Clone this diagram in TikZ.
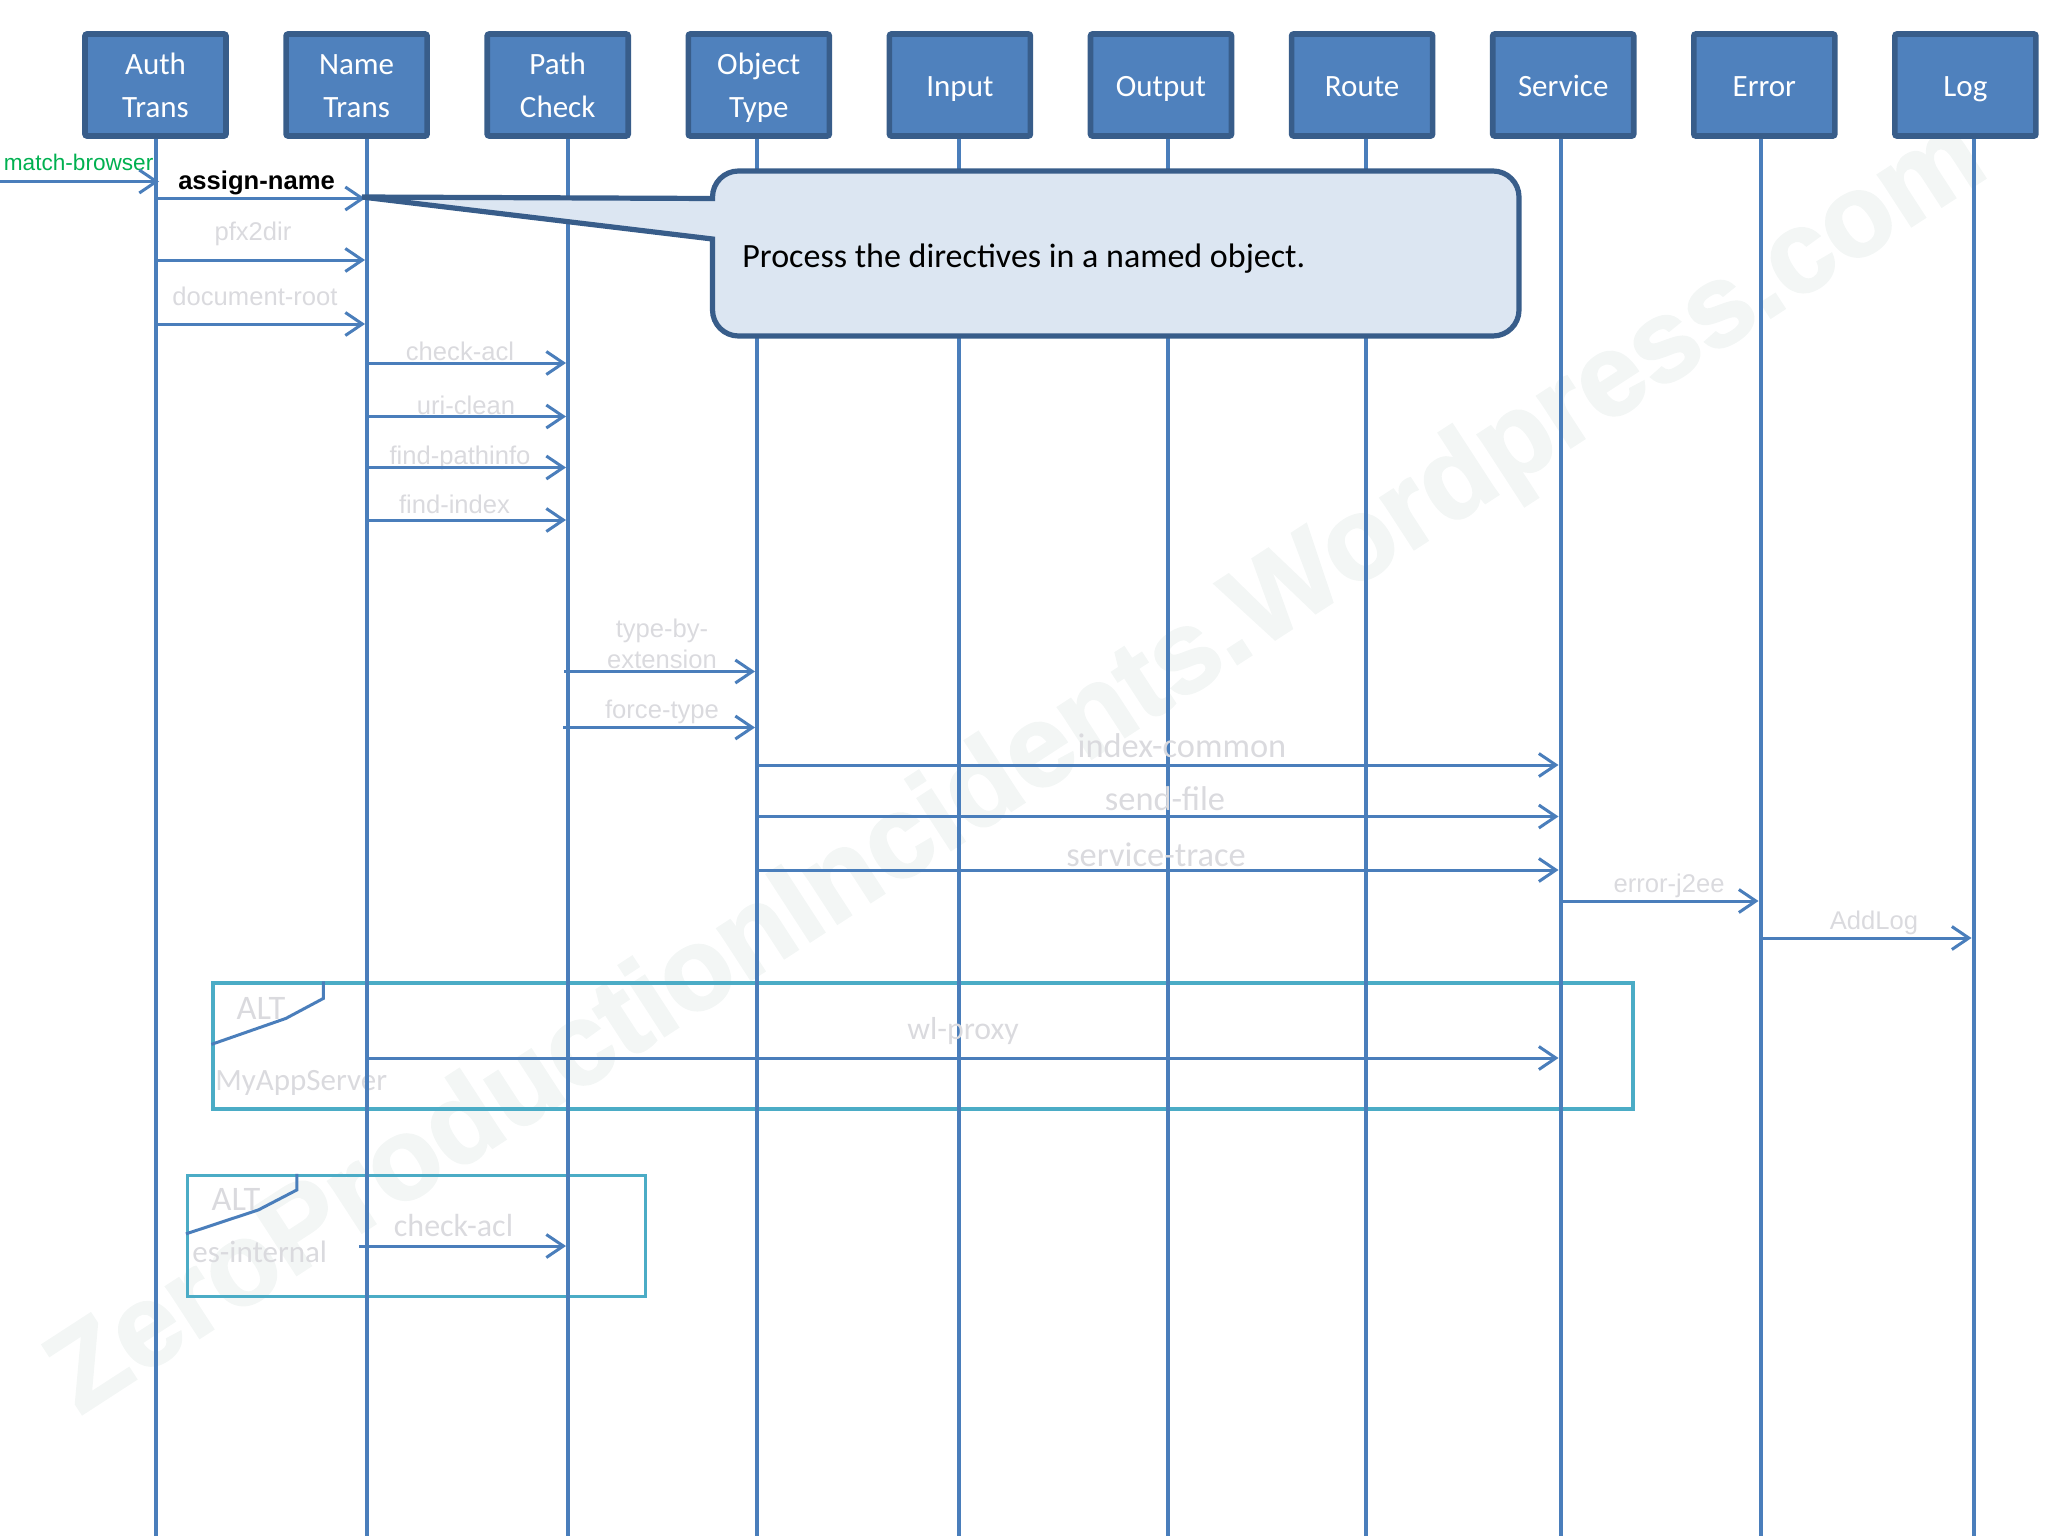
\documentclass[tikz,border=0pt]{standalone}
\usepackage{fontspec}
\setmainfont{Carlito}
\newfontfamily\arialfont{Liberation Sans}
\newfontfamily\markfont[BoldFeatures={FakeBold=2}]{Liberation Sans}
\usetikzlibrary{arrows.meta, positioning}
\definecolor{boxfill}{HTML}{4F81BD}
\definecolor{boxline}{HTML}{385D8A}
\definecolor{lineblue}{HTML}{4A7EBB}
\definecolor{notefill}{HTML}{DCE6F2}
\definecolor{framecol}{HTML}{4BACC6}
\definecolor{msggray}{HTML}{DADADE}
\definecolor{markgray}{HTML}{F3F6F5}
\definecolor{foundgreen}{HTML}{00B050}
\newcommand{\phaseone}[1]{\rule[-4.75pt]{0pt}{21.5pt}#1}
\newcommand{\phasetwo}[2]{\rule{0pt}{15pt}#1\\\rule[-3.7pt]{0pt}{3.7pt}#2}
\tikzstyle{phase} = [rectangle, rounded corners=1pt, minimum width=70.5pt, minimum height=51pt, text centered, align=center, draw=boxline, line width=2.8pt, fill=boxfill, text=white, inner sep=0pt, font=\fontsize{15.5}{21.5}\selectfont]
\tikzstyle{lifeline} = [draw=lineblue, line width=2pt]
\tikzstyle{arrow} = [draw=lineblue, line width=1.5pt, -{Straight Barb[length=8.5pt,width=11.5pt,line width=1.5pt]}, shorten >=1pt]
\tikzstyle{altframe} = [rectangle, draw=framecol, line width=1.6pt, inner sep=0pt]
\tikzstyle{alttab} = [draw=lineblue, line width=1.5pt]
\tikzstyle{msgarial} = [text=msggray, inner sep=0pt, font=\arialfont\fontsize{12.8}{15}\selectfont]
\tikzstyle{msgcarlito} = [text=msggray, inner sep=0pt, font=\fontsize{15.5}{18}\selectfont]
\tikzstyle{msgwide} = [text=msggray, inner sep=0pt, font=\fontsize{17.2}{20}\selectfont]
\begin{document}
\begin{tikzpicture}[x=0.5pt, y=-0.5pt, node distance=100.55pt]
        \useasboundingbox (0,0) rectangle (2048,1536);
        \node (watermark) [rotate=33, text=markgray, inner sep=0pt, font=\markfont\bfseries\fontsize{58}{62}\selectfont] at (1019,770) {ZeroProductionIncidents.Wordpress.com};

        % phases
        \node (authtrans) [phase] at (155.5,85) {\phasetwo{Auth}{Trans}};
        \node (nametrans) [phase, right of=authtrans] {\phasetwo{Name}{Trans}};
        \node (pathcheck) [phase, right of=nametrans] {\phasetwo{Path}{Check}};
        \node (objecttype) [phase, right of=pathcheck] {\phasetwo{Object}{Type}};
        \node (input) [phase, right of=objecttype] {\phaseone{Input}};
        \node (output) [phase, right of=input] {\phaseone{Output}};
        \node (route) [phase, right of=output] {\phaseone{Route}};
        \node (service) [phase, right of=route] {\phaseone{Service}};
        \node (error) [phase, right of=service] {\phaseone{Error}};
        \node (log) [phase, right of=error] {\phaseone{Log}};

        % alt frames
        \node (altproxy) [altframe, minimum width=710pt, minimum height=63pt] at (923,1046) {};
        \node (altes) [altframe, minimum width=229pt, minimum height=60.5pt] at (416.5,1236) {};
        \draw [alttab] ([xshift=56pt]altproxy.north west) -- ++(0,17) -- ++(-37.5,20) -- ([yshift=-31.5pt]altproxy.north west);
        \draw [alttab] ([xshift=55.5pt]altes.north west) -- ++(0,16) -- ++(-38.5,20) -- ([yshift=-30pt]altes.north west);
        \node (altproxylabel) [msgwide] at (261,1008) {ALT};
        \node (proxyserver) [msgcarlito, anchor=west] at (215,1083) {MyAppServer};
        \node (alteslabel) [msgwide] at (236,1199) {ALT};
        \node (esinternal) [msgcarlito, anchor=west] at (192,1252) {es-internal};

        % lifelines
        \coordinate (bottom) at (0,1536);
        \coordinate (authline) at (156,139);
        \coordinate (nameline) at (367,139);
        \coordinate (pathline) at (568,139);
        \coordinate (objectline) at (757,139);
        \coordinate (inputline) at (958.5,139);
        \coordinate (outputline) at (1168,139);
        \coordinate (routeline) at (1365.5,139);
        \coordinate (serviceline) at (1560.5,139);
        \coordinate (errorline) at (1760.5,139);
        \coordinate (logline) at (1973.5,139);
        \draw [lifeline] (authtrans.south -| authline) -- (authline |- bottom);
        \draw [lifeline] (nametrans.south -| nameline) -- (nameline |- bottom);
        \draw [lifeline] (pathcheck.south -| pathline) -- (pathline |- bottom);
        \draw [lifeline] (objecttype.south -| objectline) -- (objectline |- bottom);
        \draw [lifeline] (input.south -| inputline) -- (inputline |- bottom);
        \draw [lifeline] (output.south -| outputline) -- (outputline |- bottom);
        \draw [lifeline] (route.south -| routeline) -- (routeline |- bottom);
        \draw [lifeline] (service.south -| serviceline) -- (serviceline |- bottom);
        \draw [lifeline] (error.south -| errorline) -- (errorline |- bottom);
        \draw [lifeline] (log.south -| logline) -- (logline |- bottom);

        % messages
        \coordinate (foundstart) at (0,181.5);
        \coordinate (assign) at (0,198.5);
        \coordinate (pfx) at (0,260);
        \coordinate (docroot) at (0,324);
        \coordinate (checkacl) at (0,363);
        \coordinate (uriclean) at (0,416.5);
        \coordinate (findpath) at (0,467.5);
        \coordinate (findindex) at (0,520);
        \coordinate (typeby) at (0,671.5);
        \coordinate (forcetype) at (0,727.5);
        \coordinate (indexcommon) at (0,765);
        \coordinate (sendfile) at (0,816.5);
        \coordinate (servicetrace) at (0,870);
        \coordinate (errorjee) at (0,901);
        \coordinate (addlog) at (0,938);
        \coordinate (wlproxy) at (0,1058);
        \coordinate (esstart) at (359,1246);

        \node (matchbrowser) [inner sep=0pt, text=foundgreen, font=\arialfont\fontsize{11.3}{13}\selectfont, anchor=west] at (3.5,162) {match-browser};
        \node (assignname) [inner sep=0pt, font=\arialfont\bfseries\fontsize{12.8}{15}\selectfont] at (256.5,182.5) {assign-name};
        \node (pfxlabel) [msgarial] at (253,233.5) {pfx2dir};
        \node (docrootlabel) [msgarial] at (255,296.5) {document-root};
        \node (checklabel) [msgarial] at (460,351.5) {check-acl};
        \node (urilabel) [msgarial] at (466,405) {uri-clean};
        \node (pathlabel) [msgarial] at (460,457.5) {find-pathinfo};
        \node (indexlabel) [msgarial] at (454.5,504.5) {find-index};
        \node (typelabel) [msgarial, align=center, font=\arialfont\fontsize{12.8}{15.2}\selectfont] at (662,644) {type-by-\\extension};
        \node (forcelabel) [msgarial] at (662,711.5) {force-type};
        \node (commonlabel) [msgwide] at (1182,746) {index-common};
        \node (sendlabel) [msgwide] at (1165,799) {send-file};
        \node (tracelabel) [msgwide] at (1156,855) {service-trace};
        \node (jeelabel) [msgarial] at (1669,885.5) {error-j2ee};
        \node (loglabel) [msgarial] at (1874,922.5) {AddLog};
        \node (proxylabel) [msgcarlito, font=\fontsize{15.9}{18}\selectfont] at (963,1031) {wl-proxy};
        \node (eslabel) [msgcarlito, font=\fontsize{16}{18}\selectfont] at (453.5,1225) {check-acl};

        \draw [arrow, shorten >=-1.5pt] (foundstart) -- (authline |- foundstart);
        \draw [arrow] (authline |- assign) -- (nameline |- assign);
        \draw [arrow] (authline |- pfx) -- (nameline |- pfx);
        \draw [arrow] (authline |- docroot) -- (nameline |- docroot);
        \draw [arrow] (nameline |- checkacl) -- (pathline |- checkacl);
        \draw [arrow] (nameline |- uriclean) -- (pathline |- uriclean);
        \draw [arrow] (nameline |- findpath) -- (pathline |- findpath);
        \draw [arrow] (nameline |- findindex) -- (pathline |- findindex);
        \draw [arrow, shorten <=-2pt] (pathline |- typeby) -- (objectline |- typeby);
        \draw [arrow, shorten <=-2.5pt] (pathline |- forcetype) -- (objectline |- forcetype);
        \draw [arrow] (objectline |- indexcommon) -- (serviceline |- indexcommon);
        \draw [arrow] (objectline |- sendfile) -- (serviceline |- sendfile);
        \draw [arrow] (objectline |- servicetrace) -- (serviceline |- servicetrace);
        \draw [arrow] (serviceline |- errorjee) -- (errorline |- errorjee);
        \draw [arrow] (errorline |- addlog) -- (logline |- addlog);
        \draw [arrow] (nameline |- wlproxy) -- (serviceline |- wlproxy);
        \draw [arrow] (esstart) -- (pathline |- esstart);

        % callout
        \coordinate (tip) at (362,197);
        \filldraw [draw=boxline, fill=notefill, line width=2.6pt, line join=miter]
            (tip) -- (712.5,198.5) [rounded corners=13pt] -- (712.5,171) -- (1519,171) -- (1519,336) -- (712.5,336) [sharp corners] -- (712.5,239) -- cycle;
        \node (note) [inner sep=0pt, anchor=west, text=black, font=\fontsize{17}{20}\selectfont] at (742,258.5) {Process the directives in a named object.};
\end{tikzpicture}
\end{document}
